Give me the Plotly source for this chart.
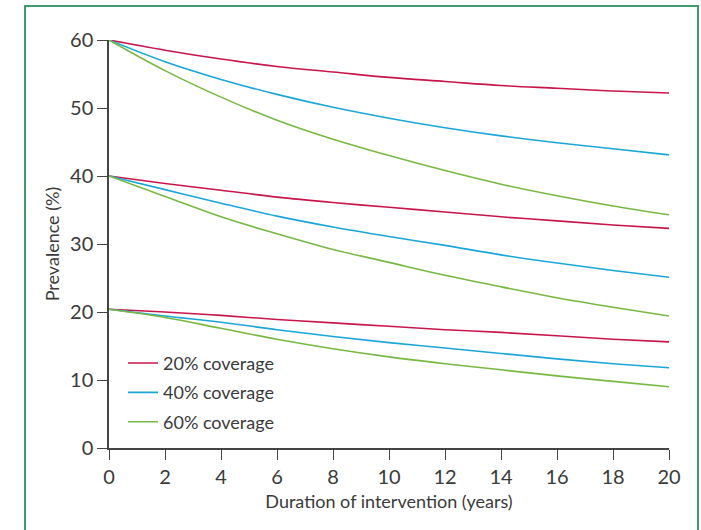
import plotly.graph_objects as go

years = [0, 2, 4, 6, 8, 10, 12, 14, 16, 18, 20]

# Baseline prevalence 60%
p60_cov20 = [60, 58.5, 57.2, 56.1, 55.3, 54.5, 53.9, 53.3, 52.9, 52.5, 52.2]
p60_cov40 = [60, 56.8, 54.2, 52.0, 50.1, 48.5, 47.1, 45.9, 44.9, 44.0, 43.1]
p60_cov60 = [60, 55.5, 51.6, 48.2, 45.4, 43.0, 40.8, 38.8, 37.1, 35.6, 34.3]
# Baseline prevalence 40%
p40_cov20 = [40, 38.9, 37.9, 36.9, 36.1, 35.4, 34.7, 34.0, 33.4, 32.8, 32.3]
p40_cov40 = [40, 38.0, 36.0, 34.1, 32.5, 31.1, 29.8, 28.4, 27.2, 26.1, 25.1]
p40_cov60 = [40, 37.0, 34.0, 31.5, 29.2, 27.3, 25.4, 23.7, 22.1, 20.7, 19.4]
# Baseline prevalence 20%
p20_cov20 = [20.4, 20.0, 19.5, 18.9, 18.4, 17.9, 17.4, 17.0, 16.5, 16.0, 15.6]
p20_cov40 = [20.4, 19.4, 18.5, 17.4, 16.4, 15.5, 14.7, 13.9, 13.1, 12.4, 11.8]
p20_cov60 = [20.4, 19.2, 17.6, 16.0, 14.6, 13.4, 12.4, 11.5, 10.6, 9.8, 9.0]

coverage_labels = ["20% coverage", "40% coverage", "60% coverage"]
colors = ["#c8164b", "#1ba6d9", "#78b944"]

series = {
    0: [p60_cov20, p40_cov20, p20_cov20],
    1: [p60_cov40, p40_cov40, p20_cov40],
    2: [p60_cov60, p40_cov60, p20_cov60],
}

x_ticks = list(range(0, 21, 2))
y_ticks = [0, 10, 20, 30, 40, 50, 60]

FONT = "Lato, sans-serif"
TXT = "#3a3a3a"

fig = go.Figure()
for ci in range(3):
    for k, ys in enumerate(series[ci]):
        fig.add_trace(go.Scatter(
            x=years, y=ys, mode="lines", line_shape="spline",
            line=dict(color=colors[ci], width=1.6),
            name=coverage_labels[ci], legendgroup=coverage_labels[ci],
            showlegend=(k == 0), hoverinfo="skip",
        ))

fig.update_layout(
    width=701, height=530,
    margin=dict(l=109, r=32, t=40, b=82),
    paper_bgcolor="white", plot_bgcolor="white",
    font=dict(family=FONT, color=TXT, size=18),
    showlegend=True,
    legend=dict(
        x=0.025, y=0.253, xanchor="left", yanchor="top",
        bgcolor="rgba(0,0,0,0)", borderwidth=0,
        font=dict(family=FONT, size=18, color=TXT),
        tracegroupgap=3, itemwidth=30,
    ),
    xaxis=dict(
        range=[0, 20], tickvals=x_ticks, ticks="outside", ticklen=10,
        tickwidth=1.3, tickcolor="#444", showline=True, linecolor="#444",
        linewidth=1.5, showgrid=False, zeroline=False,
        tickfont=dict(size=20, family=FONT, color=TXT),
        title=dict(text="Duration of intervention (years)", standoff=9,
                   font=dict(size=18, family=FONT, color=TXT)),
    ),
    yaxis=dict(
        range=[0, 60], tickvals=y_ticks, ticks="outside", ticklen=10,
        tickwidth=1.3, tickcolor="#444", showline=True, linecolor="#444",
        linewidth=1.5, showgrid=False, zeroline=False,
        tickfont=dict(size=20, family=FONT, color=TXT),
        title=dict(text="Prevalence (%)", standoff=6,
                   font=dict(size=18, family=FONT, color=TXT)),
    ),
)

fig.add_shape(
    type="rect", xref="paper", yref="paper",
    x0=-0.15, x1=1.0518, y0=-0.25, y1=1.0833,
    line=dict(color="#3f9a6c", width=2), fillcolor="rgba(0,0,0,0)",
    layer="below",
)

fig.write_html("out.html")
